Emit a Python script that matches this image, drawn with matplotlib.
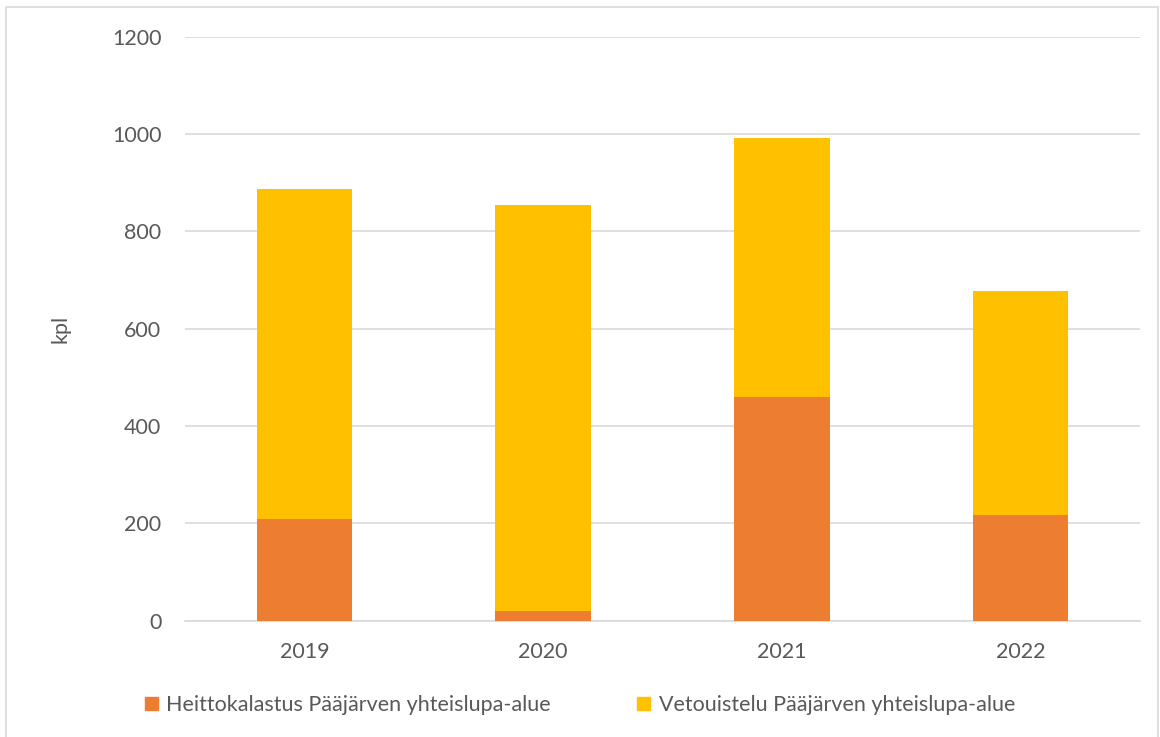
import matplotlib.pyplot as plt
from matplotlib.patches import Rectangle, Patch

# Data
years = ["2019", "2020", "2021", "2022"]
heittokalastus = [208, 19, 459, 217]
vetouistelu = [679, 835, 533, 460]

series_names = ["Heittokalastus Pääjärven yhteislupa-alue",
                "Vetouistelu Pääjärven yhteislupa-alue"]
y_ticks = [0, 200, 400, 600, 800, 1000, 1200]

W, H = 1160, 737
plt.rcParams['font.family'] = ['Lato', 'DejaVu Sans']
text_color = "#595959"
fs = 15.5

fig = plt.figure(figsize=(W / 100, H / 100), dpi=100)
ax = fig.add_axes([185 / W, 1 - 620.7 / H, (1140 - 185) / W, (620.7 - 36.7) / H])

x = range(len(years))
ax.bar(x, heittokalastus, width=0.4, color="#ED7D31", zorder=3)
ax.bar(x, vetouistelu, width=0.4, bottom=heittokalastus, color="#FFC000", zorder=3)

ax.set_xlim(-0.5, 3.5)
ax.set_ylim(0, 1200)
ax.set_yticks(y_ticks)
ax.set_xticks(list(x))
ax.set_xticklabels(years)
ax.yaxis.grid(True, color="#D9D9D9", linewidth=1.2, zorder=0)
for s in ["top", "right", "left"]:
    ax.spines[s].set_visible(False)
ax.spines["bottom"].set_color("#D9D9D9")
ax.spines["bottom"].set_linewidth(1.2)
ax.tick_params(length=0, labelsize=fs, colors=text_color)
ax.tick_params(axis="y", pad=17)
ax.tick_params(axis="x", pad=15)
ax.set_ylabel("kpl", fontsize=fs, color=text_color, labelpad=30)

handles = [Patch(color="#ED7D31"), Patch(color="#FFC000")]
fig.legend(handles, series_names, loc="center", bbox_to_anchor=(0.5, 1 - 705 / H),
           ncol=2, frameon=False, fontsize=fs, labelcolor=text_color,
           handlelength=0.6, handleheight=0.6, handletextpad=0.4, columnspacing=4.0)

# light chart-area border
fig.patches.append(Rectangle((6 / W, -0.01), (1158 - 6) / W, 1 - 7 / H + 0.01,
                             transform=fig.transFigure, fill=False,
                             edgecolor="#D9D9D9", linewidth=1.2))

fig.savefig("out.png", dpi=100)
